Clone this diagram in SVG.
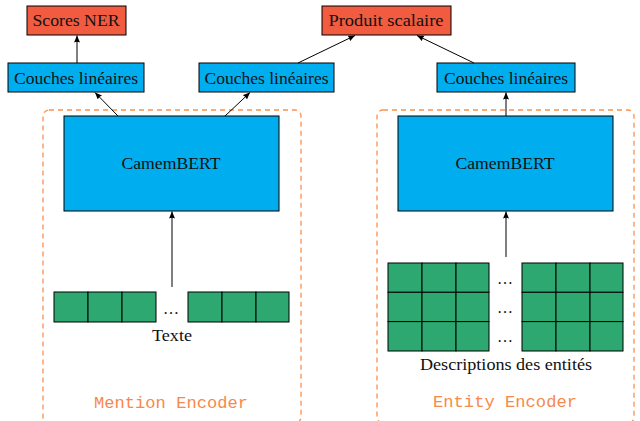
<svg xmlns="http://www.w3.org/2000/svg" width="640" height="421" viewBox="0 0 640 421">
<defs>
<marker id="arr" markerUnits="userSpaceOnUse" markerWidth="8" markerHeight="7" refX="7" refY="3" orient="auto">
<path d="M0,0 L7,3 L0,6 Q1.5,3 0,0 z" fill="#000"/>
</marker>
<style>
.red{fill:#F15B40;stroke:#000;stroke-width:1}
.blue{fill:#00AEEF;stroke:#000;stroke-width:1}
.cell{fill:#2CA870;stroke:#000;stroke-width:1}
.enc{fill:none;stroke:#F9914F;stroke-width:1.3;stroke-dasharray:5,4}
.t{font-family:"Liberation Serif","DejaVu Serif",serif;font-size:16px;fill:#111;text-anchor:middle}
.mono{font-family:"Liberation Mono","DejaVu Sans Mono",monospace;font-size:17px;fill:#F7894A;text-anchor:middle}
.ln{stroke:#000;stroke-width:1;fill:none;marker-end:url(#arr)}
</style>
</defs>
<rect fill="#fff" x="0" y="0" width="640" height="421"/>

<g id="mention-encoder">
<rect class="enc" x="43" y="110" width="258" height="313" rx="6"/>
<text class="mono" x="171" y="408" textLength="154" lengthAdjust="spacingAndGlyphs">Mention Encoder</text>
</g>
<g id="entity-encoder">
<rect class="enc" x="377" y="110" width="257" height="313" rx="6"/>
<text class="mono" x="505" y="407" textLength="144" lengthAdjust="spacingAndGlyphs">Entity Encoder</text>
</g>

<g id="scores-ner">
<rect class="red" x="27" y="6" width="99" height="29"/>
<text class="t" x="76" y="26" textLength="87" lengthAdjust="spacingAndGlyphs">Scores NER</text>
</g>
<g id="produit-scalaire">
<rect class="red" x="322" y="6" width="129" height="29"/>
<text class="t" x="386" y="26" textLength="115" lengthAdjust="spacingAndGlyphs">Produit scalaire</text>
</g>
<g id="couches-1">
<rect class="blue" x="8" y="63" width="136" height="29"/>
<text class="t" x="76" y="84" textLength="124" lengthAdjust="spacingAndGlyphs">Couches linéaires</text>
</g>
<g id="couches-2">
<rect class="blue" x="199" y="63" width="135" height="29"/>
<text class="t" x="266.5" y="84" textLength="124" lengthAdjust="spacingAndGlyphs">Couches linéaires</text>
</g>
<g id="couches-3">
<rect class="blue" x="437" y="63" width="138" height="29"/>
<text class="t" x="506" y="84" textLength="124" lengthAdjust="spacingAndGlyphs">Couches linéaires</text>
</g>
<g id="camembert-1">
<rect class="blue" x="64" y="116" width="215" height="95"/>
<text class="t" x="171" y="169" textLength="99" lengthAdjust="spacingAndGlyphs">CamemBERT</text>
</g>
<g id="camembert-2">
<rect class="blue" x="398" y="116" width="215" height="95"/>
<text class="t" x="505" y="169" textLength="99" lengthAdjust="spacingAndGlyphs">CamemBERT</text>
</g>

<g id="texte">
<rect class="cell" x="54" y="292" width="34" height="30"/>
<rect class="cell" x="88" y="292" width="34" height="30"/>
<rect class="cell" x="122" y="292" width="34" height="30"/>
<text class="t" x="171" y="314" textLength="18" lengthAdjust="spacing">…</text>
<rect class="cell" x="188" y="292" width="34" height="30"/>
<rect class="cell" x="222" y="292" width="34" height="30"/>
<rect class="cell" x="256" y="292" width="33" height="30"/>
<text class="t" x="172" y="341" textLength="40" lengthAdjust="spacingAndGlyphs">Texte</text>
</g>

<g id="descriptions">
<g>
<rect class="cell" x="388" y="263" width="34" height="29.3"/>
<rect class="cell" x="422" y="263" width="34" height="29.3"/>
<rect class="cell" x="456" y="263" width="33" height="29.3"/>
<rect class="cell" x="388" y="292.3" width="34" height="29.3"/>
<rect class="cell" x="422" y="292.3" width="34" height="29.3"/>
<rect class="cell" x="456" y="292.3" width="33" height="29.3"/>
<rect class="cell" x="388" y="321.6" width="34" height="29.4"/>
<rect class="cell" x="422" y="321.6" width="34" height="29.4"/>
<rect class="cell" x="456" y="321.6" width="33" height="29.4"/>
</g>
<text class="t" x="505" y="284">…</text>
<text class="t" x="505" y="313">…</text>
<text class="t" x="505" y="342">…</text>
<g>
<rect class="cell" x="522" y="263" width="34" height="29.3"/>
<rect class="cell" x="556" y="263" width="34" height="29.3"/>
<rect class="cell" x="590" y="263" width="33" height="29.3"/>
<rect class="cell" x="522" y="292.3" width="34" height="29.3"/>
<rect class="cell" x="556" y="292.3" width="34" height="29.3"/>
<rect class="cell" x="590" y="292.3" width="33" height="29.3"/>
<rect class="cell" x="522" y="321.6" width="34" height="29.4"/>
<rect class="cell" x="556" y="321.6" width="34" height="29.4"/>
<rect class="cell" x="590" y="321.6" width="33" height="29.4"/>
</g>
<text class="t" x="506" y="370" textLength="172" lengthAdjust="spacingAndGlyphs">Descriptions des entités</text>
</g>

<g id="connectors">
<line class="ln" x1="77" y1="63" x2="77" y2="35.5"/>
<line class="ln" x1="118" y1="116" x2="95" y2="92.5"/>
<line class="ln" x1="225" y1="116" x2="250" y2="92.5"/>
<line class="ln" x1="298" y1="63" x2="355" y2="35.5"/>
<line class="ln" x1="474" y1="63" x2="417" y2="35.5"/>
<line class="ln" x1="506" y1="116" x2="506" y2="92.5"/>
<line class="ln" x1="172" y1="287" x2="172" y2="211.5"/>
<line class="ln" x1="506" y1="257" x2="506" y2="211.5"/>
</g>
</svg>
